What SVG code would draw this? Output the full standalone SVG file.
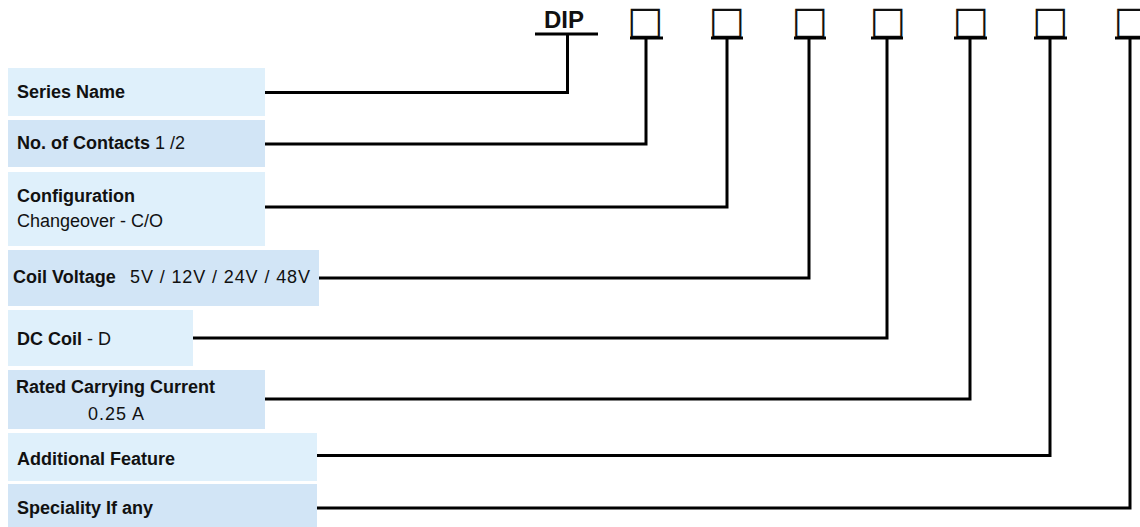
<svg xmlns="http://www.w3.org/2000/svg" width="1140" height="527" viewBox="0 0 1140 527">
<style>
.lt{fill:#dff0fb}
.dk{fill:#d2e5f6}
.b{font-family:"Liberation Sans",Arial,sans-serif;font-weight:bold;font-size:18px;fill:#111}
.r{font-family:"Liberation Sans",Arial,sans-serif;font-weight:normal;font-size:18px;fill:#111}
.sq{font-family:"DejaVu Sans",sans-serif;font-size:38px;fill:#111}
.ln{fill:none;stroke:#000;stroke-width:3}
</style>
<rect width="1140" height="527" fill="#fff"/>
<g id="header">
<text x="544" y="28" class="b" style="font-size:24px">DIP</text>
<line class="ln" x1="535" y1="34" x2="598" y2="34"/>
<g class="sq">
<text x="645" y="33" text-anchor="middle">□</text>
<text x="726.5" y="33" text-anchor="middle">□</text>
<text x="809.5" y="33" text-anchor="middle">□</text>
<text x="887.5" y="33" text-anchor="middle">□</text>
<text x="970.5" y="33" text-anchor="middle">□</text>
<text x="1050" y="33" text-anchor="middle">□</text>
<text x="1131.5" y="33" text-anchor="middle">□</text>
</g>
<g class="ln">
<line x1="630" y1="38" x2="663" y2="38"/>
<line x1="711" y1="38" x2="743" y2="38"/>
<line x1="794" y1="38" x2="826" y2="38"/>
<line x1="871" y1="38" x2="903" y2="38"/>
<line x1="954" y1="38" x2="987" y2="38"/>
<line x1="1034" y1="38" x2="1067" y2="38"/>
<line x1="1115" y1="38" x2="1148" y2="38"/>
</g>
</g>
<g id="series-name">
<rect class="lt" x="8" y="68" width="257" height="48"/>
<text x="17" y="98" class="b">Series Name</text>
</g>
<g id="no-of-contacts">
<rect class="dk" x="8" y="120" width="257" height="47"/>
<text x="17" y="149" class="b">No. of Contacts <tspan class="r">1 /2</tspan></text>
</g>
<g id="configuration">
<rect class="lt" x="8" y="172" width="257" height="74"/>
<text x="17" y="202" class="b">Configuration</text>
<text x="17" y="227" class="r">Changeover - C/O</text>
</g>
<g id="coil-voltage">
<rect class="dk" x="8" y="250" width="311" height="56"/>
<text x="13" y="283" class="b">Coil Voltage</text>
<text x="130" y="283" class="r" textLength="180" lengthAdjust="spacing">5V / 12V / 24V / 48V</text>
</g>
<g id="dc-coil">
<rect class="lt" x="8" y="310" width="185" height="56"/>
<text x="17" y="345" class="b">DC Coil <tspan class="r">- D</tspan></text>
</g>
<g id="rated-current">
<rect class="dk" x="8" y="370" width="257" height="59"/>
<text x="16" y="393" class="b">Rated Carrying Current</text>
<text x="88" y="420" class="r" textLength="56" lengthAdjust="spacing">0.25 A</text>
</g>
<g id="additional-feature">
<rect class="lt" x="8" y="433" width="309" height="48"/>
<text x="17" y="465" class="b">Additional Feature</text>
</g>
<g id="speciality">
<rect class="dk" x="8" y="484" width="309" height="43"/>
<text x="17" y="514" class="b">Speciality If any</text>
</g>
<g id="connectors" class="ln">
<path d="M265 92.5H567.5V34"/>
<path d="M265 144H646V38"/>
<path d="M265 207H727V38"/>
<path d="M319 278H809V38"/>
<path d="M193 338H887V38"/>
<path d="M265 399H970V38"/>
<path d="M317 455.5H1050V38"/>
<path d="M317 508H1130V38"/>
</g>
</svg>
